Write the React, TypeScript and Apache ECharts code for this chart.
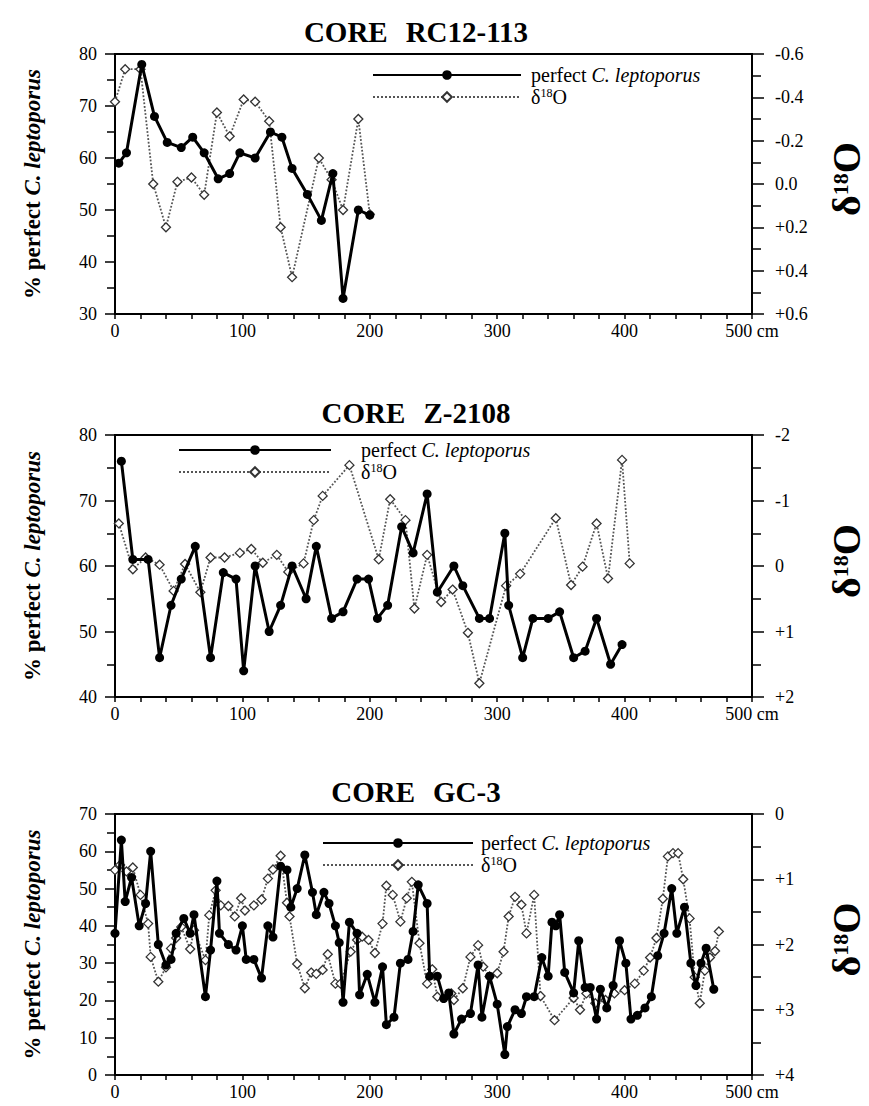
import React, { useEffect, useRef } from "react";
import * as echarts from "echarts";

const SERIF = "'Times New Roman', 'Liberation Serif', 'DejaVu Serif', serif";

// ---- CORE RC12-113 ----
const rcPctDepth = [3, 9, 21, 31, 41, 52, 61, 70, 81, 90, 98, 110, 122, 131, 139, 151, 162, 171, 179, 191, 200];
const rcPct = [59, 61, 78, 68, 63, 62, 64, 61, 56, 57, 61, 60, 65, 64, 58, 53, 48, 57, 33, 50, 49];
const rcO18Depth = [0, 8, 20, 30, 40, 49, 60, 70, 80, 90, 101, 110, 121, 130, 139, 160, 170, 179, 191, 200];
const rcO18 = [-0.38, -0.53, -0.53, 0.0, 0.2, -0.01, -0.03, 0.05, -0.33, -0.22, -0.39, -0.38, -0.29, 0.2, 0.43, -0.12, -0.02, 0.12, -0.3, 0.14];

// ---- CORE Z-2108 ----
const zPctDepth = [5, 14, 26, 35, 44, 52, 63, 75, 85, 95, 101, 110, 121, 130, 139, 150, 158, 170, 179, 190, 199, 206, 214, 225, 234, 245, 253, 266, 273, 286, 294, 306, 309, 320, 328, 340, 349, 360, 369, 378, 389, 398];
const zPct = [76, 61, 61, 46, 54, 58, 63, 46, 59, 58, 44, 60, 50, 54, 60, 55, 63, 52, 53, 58, 58, 52, 54, 66, 62, 71, 56, 60, 57, 52, 52, 65, 54, 46, 52, 52, 53, 46, 47, 52, 45, 48];
const zO18Depth = [3, 14, 24, 35, 46, 55, 67, 75, 86, 98, 107, 116, 127, 136, 148, 156, 163, 184, 207, 216, 228, 235, 245, 256, 265, 277, 286, 307, 318, 346, 358, 367, 378, 387, 398, 404];
const zO18 = [-0.65, 0.05, -0.13, -0.02, 0.38, -0.03, 0.4, -0.13, -0.13, -0.2, -0.26, -0.05, -0.17, 0.09, -0.04, -0.7, -1.07, -1.54, -0.1, -1.02, -0.7, 0.65, -0.17, 0.55, 0.36, 1.02, 1.79, 0.3, 0.12, -0.73, 0.29, 0.01, -0.65, 0.19, -1.62, -0.04];

// ---- CORE GC-3 ----
const gcPctDepth = [0, 5, 8, 13, 19, 24, 28, 34, 40, 44, 48, 54, 59, 62, 71, 75, 80, 82, 89, 95, 100, 103, 109, 115, 120, 124, 130, 135, 138, 143, 149, 155, 158, 164, 168, 173, 176, 179, 184, 190, 192, 198, 204, 210, 213, 219, 224, 230, 234, 238, 245, 247, 253, 258, 262, 266, 272, 279, 285, 288, 294, 300, 306, 308, 314, 319, 323, 329, 335, 340, 343, 346, 349, 353, 360, 364, 369, 373, 378, 381, 386, 391, 396, 401, 405, 410, 416, 421, 426, 431, 437, 441, 447, 452, 456, 460, 464, 470];
const gcPct = [38, 63, 46.5, 53, 40, 46, 60, 35, 29.5, 31, 38, 42, 38, 43, 21, 33.5, 52, 38, 35, 33.5, 40, 31, 31, 26, 40, 37, 56, 55, 45, 50, 59, 49, 43, 49, 46, 40, 35.5, 19.5, 41, 38, 21.5, 27, 19.5, 29, 13.5, 15.5, 30, 31, 38.5, 51, 46, 26.5, 26.5, 20.5, 22, 11, 15, 16.5, 29.5, 15.5, 26.5, 19, 5.5, 13, 17.5, 16.5, 21, 21, 31.5, 26.5, 41, 40, 43, 27.5, 22, 36, 23.5, 23.5, 15, 23, 18, 24, 36, 30, 15, 16, 18, 21, 32, 38, 50, 38, 45, 30, 24, 30, 34, 23];
const gcO18Depth = [0, 4, 9, 14, 20, 26, 28, 34, 40, 44, 48, 52, 59, 62, 71, 74, 79, 83, 89, 94, 99, 102, 109, 115, 120, 124, 130, 135, 137, 143, 149, 154, 158, 163, 167, 173, 177, 185, 190, 194, 199, 204, 210, 213, 218, 224, 229, 233, 239, 245, 249, 253, 264, 266, 273, 279, 285, 289, 294, 300, 305, 309, 314, 319, 323, 329, 334, 345, 360, 365, 370, 377, 385, 392, 400, 408, 415, 420, 425, 430, 434, 438, 442, 446, 451, 455, 459, 463, 467, 471, 474];
const gcO18 = [0.86, 0.78, 0.88, 0.82, 1.24, 1.68, 2.19, 2.57, 2.35, 2.06, 1.9, 1.73, 2.07, 1.78, 2.24, 1.55, 1.17, 1.4, 1.41, 1.57, 1.29, 1.48, 1.4, 1.31, 0.99, 0.85, 0.64, 1.36, 1.57, 2.3, 2.67, 2.43, 2.45, 2.39, 2.15, 2.6, 2.6, 2.11, 1.93, 1.88, 1.93, 2.13, 1.68, 1.1, 1.24, 1.65, 1.29, 1.04, 1.98, 2.6, 2.38, 2.8, 2.75, 2.85, 2.67, 2.19, 2.01, 2.34, 2.49, 2.44, 2.11, 1.57, 1.27, 1.39, 1.83, 1.24, 2.79, 3.16, 2.82, 3.0, 2.75, 2.9, 2.85, 2.75, 2.7, 2.6, 2.4, 2.2, 1.9, 1.3, 0.65, 0.6, 0.6, 1.0, 1.6, 2.5, 2.9, 2.4, 2.2, 2.1, 1.8];

const coreNames = ["CORE", "RC12-113", "Z-2108", "GC-3"];
const depthTicks = { min: 0, max: 500, interval: 100 };
const pctRanges = [
  { min: 30, max: 80 },
  { min: 40, max: 80 },
  { min: 0, max: 70 },
];
const o18Ranges = [
  { min: -0.6, max: 0.6, interval: 0.2 },
  { min: -2, max: 2, interval: 1 },
  { min: 0, max: 4, interval: 1 },
];

const PCT_NAME = "perfect C. leptoporus";
const O18_NAME = "δ18O";

const zip = (xs: number[], ys: number[]) => xs.map((x, i) => [x, ys[i]]);

const panels = [
  { title: coreNames[1], pct: zip(rcPctDepth, rcPct), o18: zip(rcO18Depth, rcO18) },
  { title: coreNames[2], pct: zip(zPctDepth, zPct), o18: zip(zO18Depth, zO18) },
  { title: coreNames[3], pct: zip(gcPctDepth, gcPct), o18: zip(gcO18Depth, gcO18) },
];

const grids = [
  { left: 115, top: 54, width: 637, height: 260 },
  { left: 115, top: 435, width: 637, height: 262 },
  { left: 115, top: 814, width: 637, height: 261 },
];

const legendPos = [
  { left: 372, top: 65, itemWidth: 148, pad: 5 },
  { left: 178, top: 440, itemWidth: 152, pad: 25 },
  { left: 322, top: 833, itemWidth: 150, pad: 3 },
];

function o18Label(panel: number) {
  return (v: number) => {
    if (panel === 0) {
      const r = Math.round(v * 10) / 10;
      if (Math.abs(r) < 1e-9) return "0.0";
      return (r > 0 ? "+" : "") + r.toFixed(1);
    }
    const r = Math.round(v);
    if (r === 0) return "0";
    return (r > 0 ? "+" : "") + r;
  };
}

function buildOption() {
  const tickLabel = { fontFamily: SERIF, fontSize: 18, color: "#000" };
  const axisLine = { show: true, onZero: false, lineStyle: { color: "#000", width: 2 } };

  const xAxis = grids.map((_, i) => ({
    type: "value",
    gridIndex: i,
    ...depthTicks,
    axisLine,
    axisTick: { show: true, length: 5, lineStyle: { color: "#000", width: 1.5 } },
    minorTick: { show: true, splitNumber: 5, length: 5, lineStyle: { color: "#000", width: 1.5 } },
    splitLine: { show: false },
    axisLabel: {
      ...tickLabel,
      margin: 8,
      formatter: (v: number) => (v === 500 ? "500 cm" : String(v)),
    },
  }));

  const yAxis: any[] = [];
  grids.forEach((_, i) => {
    yAxis.push({
      type: "value",
      gridIndex: i,
      position: "left",
      ...pctRanges[i],
      interval: 10,
      axisLine,
      axisTick: { show: true, length: 10, lineStyle: { color: "#000", width: 1.5 } },
      minorTick: { show: true, splitNumber: 2, length: 8, lineStyle: { color: "#000", width: 1.5 } },
      splitLine: { show: false },
      axisLabel: { ...tickLabel, margin: 18 },
    });
    yAxis.push({
      type: "value",
      gridIndex: i,
      position: "right",
      inverse: true,
      ...o18Ranges[i],
      axisLine,
      axisTick: { show: true, length: 12, lineStyle: { color: "#000", width: 1.5 } },
      minorTick: { show: true, splitNumber: 2, length: 9, lineStyle: { color: "#000", width: 1.5 } },
      splitLine: { show: false },
      axisLabel: { ...tickLabel, margin: 23, formatter: o18Label(i) },
    });
  });

  const series: any[] = [];
  panels.forEach((p, i) => {
    series.push({
      name: O18_NAME,
      type: "line",
      xAxisIndex: i,
      yAxisIndex: 2 * i + 1,
      data: p.o18,
      symbol: "diamond",
      symbolSize: 9,
      lineStyle: { color: "#555", width: 1.8, type: "dotted" },
      itemStyle: { color: "#fff", borderColor: "#333", borderWidth: 1.3 },
      z: 2,
    });
    series.push({
      name: PCT_NAME,
      type: "line",
      xAxisIndex: i,
      yAxisIndex: 2 * i,
      data: p.pct,
      symbol: "circle",
      symbolSize: 9,
      lineStyle: { color: "#000", width: 3 },
      itemStyle: { color: "#000" },
      z: 3,
    });
  });

  const legend = legendPos.map((l) => ({
    orient: "vertical",
    left: l.left,
    top: l.top,
    padding: 0,
    itemWidth: l.itemWidth,
    itemHeight: 12,
    itemGap: 2,
    selectedMode: false,
    data: [PCT_NAME, O18_NAME],
    formatter: (name: string) =>
      name === PCT_NAME ? "perfect {i|C. leptoporus}" : "δ{sup|18}O",
    textStyle: {
      fontFamily: SERIF,
      fontSize: 20,
      color: "#000",
      lineHeight: 20,
      padding: [0, 0, 0, l.pad],
      rich: {
        i: { fontFamily: SERIF, fontSize: 20, fontStyle: "italic", color: "#000", lineHeight: 20 },
        sup: { fontFamily: SERIF, fontSize: 12, color: "#000", verticalAlign: "top", lineHeight: 20 },
      },
    },
  }));

  const graphic: any[] = [];
  grids.forEach((g, i) => {
    const cy = g.top + g.height / 2;
    graphic.push({
      type: "text",
      x: 416,
      y: g.top - 22,
      style: {
        text: `{a|${coreNames[0]}}{b|${panels[i].title}}`,
        align: "center",
        verticalAlign: "middle",
        rich: {
          a: { fontFamily: SERIF, fontSize: 29, fontWeight: "bold", fill: "#000", padding: [0, 18, 0, 0] },
          b: { fontFamily: SERIF, fontSize: 29, fontWeight: "bold", fill: "#000" },
        },
      },
    });
    graphic.push({
      type: "text",
      x: 32,
      y: cy,
      rotation: Math.PI / 2,
      style: {
        text: "{a|% perfect }{b|C. leptoporus}",
        align: "center",
        verticalAlign: "middle",
        rich: {
          a: { fontFamily: SERIF, fontSize: 23, fontWeight: "bold", fill: "#000" },
          b: { fontFamily: SERIF, fontSize: 23, fontWeight: "bold", fontStyle: "italic", fill: "#000" },
        },
      },
    });
    graphic.push({
      type: "text",
      x: 846,
      y: cy - 5,
      rotation: Math.PI / 2,
      style: {
        text: "{d|δ}{s|18}{o|O}",
        align: "center",
        verticalAlign: "middle",
        rich: {
          d: { fontFamily: SERIF, fontSize: 40, fontWeight: "bold", fill: "#000", lineHeight: 34 },
          s: { fontFamily: SERIF, fontSize: 22, fontWeight: "bold", fill: "#000", verticalAlign: "top", lineHeight: 34 },
          o: { fontFamily: SERIF, fontSize: 40, fontWeight: "bold", fill: "#000", lineHeight: 34 },
        },
      },
    });
  });

  return {
    animation: false,
    backgroundColor: "#fff",
    textStyle: { fontFamily: SERIF },
    grid: grids.map((g) => ({ ...g, show: true, borderColor: "#000", borderWidth: 2, backgroundColor: "transparent" })),
    xAxis,
    yAxis,
    legend,
    series,
    graphic,
  };
}

export default function App() {
  const ref = useRef<HTMLDivElement>(null);
  useEffect(() => {
    if (!ref.current) return;
    const chart = echarts.init(ref.current, null, { renderer: "svg" });
    chart.setOption(buildOption() as any);
    return () => chart.dispose();
  }, []);
  return (
    <div
      ref={ref}
      style={{ position: "absolute", left: 0, top: 0, width: 869, height: 1106, background: "#fff" }}
    />
  );
}
